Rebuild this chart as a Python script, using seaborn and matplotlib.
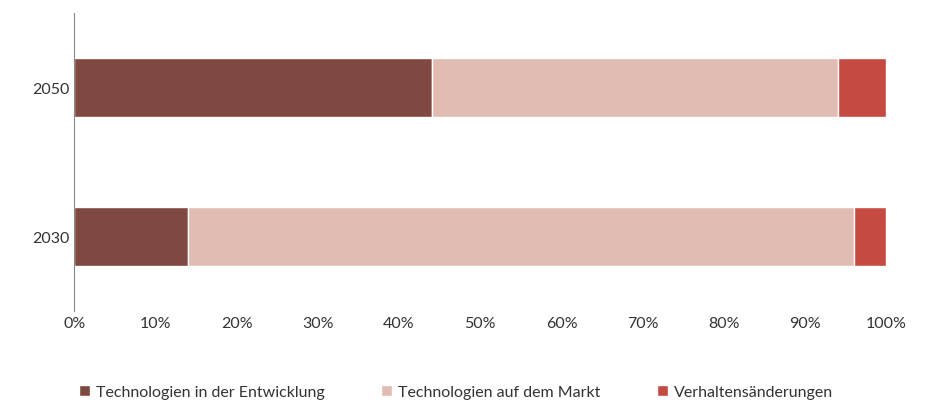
import matplotlib
matplotlib.use("Agg")
import matplotlib.pyplot as plt
import seaborn as sns
import pandas as pd
import numpy as np

years = ["2050", "2030"]
series = ["Technologien in der Entwicklung", "Technologien auf dem Markt", "Verhaltensänderungen"]
entwicklung = [44, 14]
markt = [50, 82]
verhalten = [6, 4]
colors = ["#7f4840", "#e0bcb3", "#c54b42"]
ticks = [0, 10, 20, 30, 40, 50, 60, 70, 80, 90, 100]

sns.set_theme(style="white")
plt.rcParams['font.family'] = ['Lato', 'DejaVu Sans']

fig = plt.figure(figsize=(9.39, 4.06), dpi=100)
ax = fig.add_axes([0.079, 0.232, 0.865, 0.733])

df = pd.DataFrame({"year": years, series[0]: entwicklung, series[1]: markt, series[2]: verhalten})
left = np.zeros(len(years))
for s, c in zip(series, colors):
    sns.barplot(data=df, x=s, y="year", color=c, left=left, ax=ax, width=0.4,
                orient="h", label=s, saturation=1)
    left = left + df[s].values

ax.set_xlim(0, 100)
ax.set_xticks(ticks)
ax.set_xticklabels([f"{t}%" for t in ticks], fontsize=11.5, color="#333333")
ax.tick_params(axis="y", labelsize=11.5, colors="#333333", length=0)
ax.tick_params(axis="x", length=0)
ax.set_xlabel("")
ax.set_ylabel("")
for sp in ["top", "right", "bottom"]:
    ax.spines[sp].set_visible(False)
ax.spines["left"].set_color("#888888")
ax.spines["left"].set_linewidth(0.8)

handles, labels = ax.get_legend_handles_labels()
ax.legend(handles, labels, loc="upper center", bbox_to_anchor=(0.47, -0.2), ncol=3,
          frameon=False, fontsize=11.5, handlelength=0.7, handleheight=0.7,
          columnspacing=3.5, handletextpad=0.4, labelcolor="#333333")

fig.savefig("out.png", dpi=100)
